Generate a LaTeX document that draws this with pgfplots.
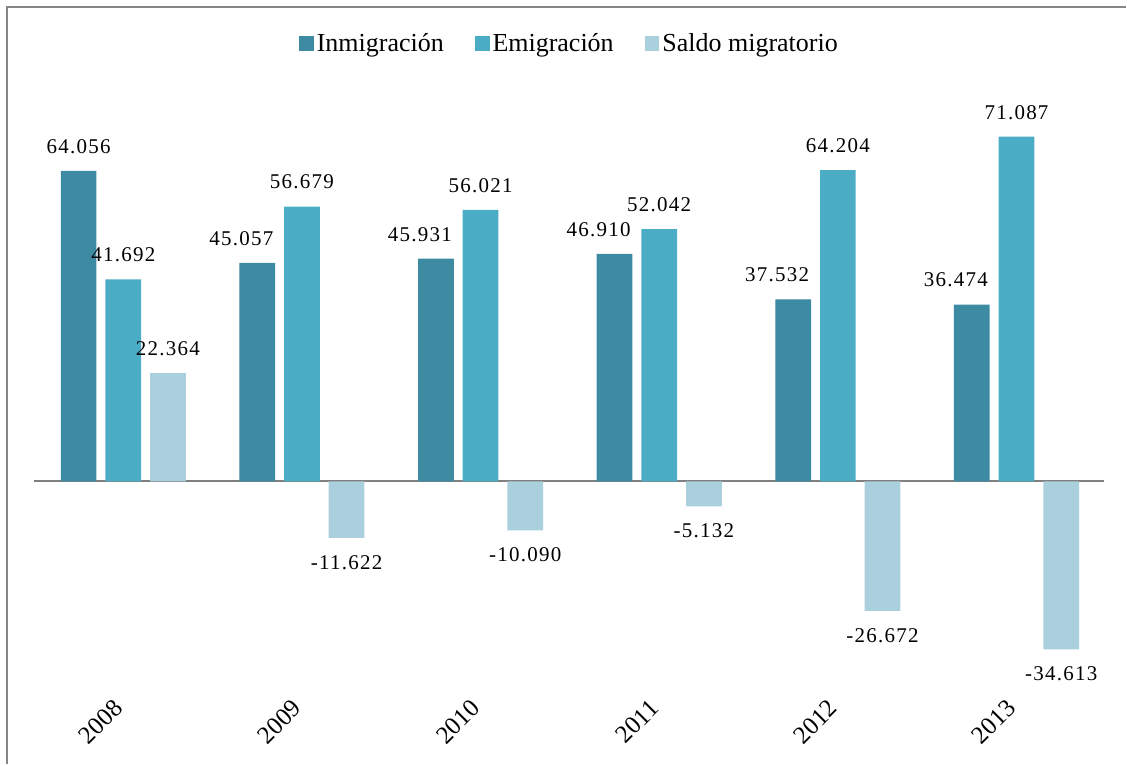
\documentclass[border=0pt]{standalone}
\usepackage{fontspec}
\setmainfont{Liberation Serif}
\newfontfamily\lblfont{Liberation Serif}[LetterSpace=6]
\usepackage{pgfplots}
\pgfplotsset{compat=1.18}
\definecolor{InmiCol}{RGB}{60,139,162}
\definecolor{EmiCol}{RGB}{75,172,198}
\definecolor{SaldoCol}{RGB}{170,207,221}
\definecolor{FrameGray}{RGB}{134,134,134}
\definecolor{ZeroGray}{RGB}{128,128,128}

\begin{document}
\begin{tikzpicture}
\begin{axis}[
    at={(0,0)}, anchor=south west,
    scale only axis,
    width=536.5pt, height=340pt,
    xmin=-0.5, xmax=5.5,
    ymin=-44.9, ymax=95.16,
    ybar, bar width=0.2,
    axis line style={draw=none},
    major tick length=0pt,
    ytick=\empty,
    xtick={0,1,2,3,4,5},
    xticklabels={2008,2009,2010,2011,2012,2013},
    xticklabel style={rotate=45, anchor=east, font=\fontsize{12.5}{14}\selectfont},
    clip=false,
    nodes near coords,
    nodes near coords align={vertical},
    every node near coord/.append style={font=\lblfont\fontsize{10.5}{12}\selectfont, inner sep=8.5pt, text=black},
    /pgf/number format/.cd, fixed, fixed zerofill, precision=3, assume math mode=true,
    /pgfplots/.cd,
    legend columns=-1,
    legend style={at={(0.5,0.965)}, anchor=center, draw=none, fill=none,
        font=\fontsize{13}{15}\selectfont,
        /tikz/every even column/.append style={column sep=14pt},
        nodes={inner sep=1.5pt}},
    legend image code/.code={\fill[#1] (0pt,-3.7pt) rectangle (7.4pt,3.7pt);},
]
\draw[ZeroGray, line width=1pt] (axis cs:-0.5,0) -- (axis cs:5.49,0);

% dx: horizontal shift of the value label, in pt
\addplot[fill=InmiCol, draw=none, bar shift=-0.25,
    visualization depends on={\thisrow{dx} \as \dx},
    every node near coord/.append style={xshift=\dx pt}] table {
    x y dx
    0 64.056 0
    1 45.057 -8
    2 45.931 -8
    3 46.910 -8
    4 37.532 -8
    5 36.474 -8
};
\addlegendentry{Inmigración}
\addplot[fill=EmiCol, draw=none, bar shift=0] coordinates {
    (0,41.692) (1,56.679) (2,56.021) (3,52.042) (4,64.204) (5,71.087)};
\addlegendentry{Emigración}
\addplot[fill=SaldoCol, draw=none, bar shift=0.25] coordinates {
    (0,22.364) (1,-11.622) (2,-10.090) (3,-5.132) (4,-26.672) (5,-34.613)};
\addlegendentry{Saldo migratorio}
\end{axis}
\pgfresetboundingbox
\path (-17pt,-32.5pt) rectangle (546.5pt,350pt);
\draw[FrameGray, line width=1.2pt] (-13.5pt,-32.5pt) -- (-13.5pt,346.5pt) -- (546.5pt,346.5pt);
\end{tikzpicture}
\end{document}
